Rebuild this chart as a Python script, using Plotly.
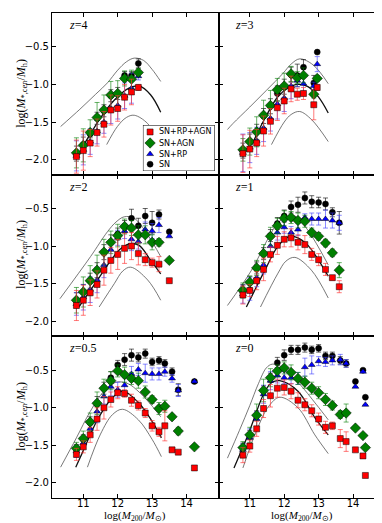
import plotly.graph_objs as go
from plotly.subplots import make_subplots


# ---- z = 4 ----
x_z4 = [10.8, 11.0, 11.2, 11.4, 11.6, 11.8, 12.0, 12.2, 12.4, 12.6]
red_z4 = [-1.96, -1.88, -1.78, -1.64, -1.53, -1.34, -1.32, -1.17, -1.10, -1.04]
green_z4 = [-1.91, -1.81, -1.64, -1.44, -1.34, -1.14, -1.12, -0.92, -0.93, -0.84]
blue_z4 = [-1.95, -1.87, -1.76, -1.62, -1.50, -1.32, -1.28, -1.15, -1.05, -0.89]
black_z4 = [-1.92, -1.80, -1.66, -1.45, -1.35, -1.15, -1.12, -0.88, -0.88, -0.72]
ered_z4 = [0.22, 0.26, 0.18, 0.18, 0.17, 0.2, 0.17, 0.17, 0.17, 0.04]
egreen_z4 = [0.2, 0.22, 0.17, 0.2, 0.2, 0.18, 0.17, 0.1, 0.12, 0.05]
eblue_z4 = [0.2, 0.2, 0.17, 0.17, 0.15, 0.2, 0.18, 0.17, 0.2, 0.05]
eblack_z4 = [0.1, 0.1, 0.05, 0.08, 0.08, 0.08, 0.08, 0.05, 0.05, 0.06]
up_z4 = [(10.34, -1.56), (10.9, -1.33), (11.36, -1.13), (11.7, -0.98), (12.0, -0.81),
         (12.25, -0.70), (12.48, -0.65), (12.75, -0.68), (13.0, -0.80), (13.25, -0.96)]
mid_z4 = [(10.95, -1.85), (11.07, -1.76), (11.55, -1.41), (11.94, -1.19), (12.33, -1.05),
          (12.62, -1.02), (12.96, -1.14), (13.25, -1.37)]
low_z4 = [(11.68, -1.80), (11.99, -1.56), (12.25, -1.44), (12.48, -1.41), (12.87, -1.52), (13.25, -1.81)]

# ---- z = 3 ----
x_z3 = [10.8, 11.0, 11.2, 11.4, 11.6, 11.8, 12.0, 12.2, 12.38, 12.56, 12.86, 12.96]
red_z3 = [-1.92, -1.86, -1.78, -1.62, -1.49, -1.31, -1.22, -1.06, -1.13, -1.12, -1.27, -1.04]
green_z3 = [-1.87, -1.76, -1.63, -1.41, -1.28, -1.07, -1.02, -0.86, -0.91, -0.88, -1.13, -0.92]
blue_z3 = [-1.91, -1.84, -1.75, -1.58, -1.45, -1.26, -1.18, -1.02, -0.95, -0.99, -1.02, -0.73]
black_z3 = [-1.88, -1.76, -1.63, -1.42, -1.29, -1.12, -1.03, -0.87, -0.88, -0.77, -0.98, -0.57]
ered_z3 = [0.25, 0.25, 0.18, 0.2, 0.17, 0.17, 0.17, 0.17, 0.08, 0.08, 0.2, 0.04]
egreen_z3 = [0.15, 0.18, 0.2, 0.2, 0.2, 0.15, 0.17, 0.1, 0.08, 0.1, 0.05, 0.04]
eblue_z3 = [0.25, 0.2, 0.18, 0.18, 0.17, 0.2, 0.18, 0.17, 0.08, 0.1, 0.05, 0.1]
eblack_z3 = [0.1, 0.1, 0.1, 0.1, 0.1, 0.1, 0.1, 0.1, 0.15, 0.1, 0.1, 0.0]
up_z3 = [(10.35, -1.60), (10.51, -1.52), (11.0, -1.30), (11.48, -1.08), (11.97, -0.85),
         (12.2, -0.73), (12.45, -0.66), (12.84, -0.74), (13.28, -0.99)]
mid_z3 = [(11.05, -1.81), (11.44, -1.45), (11.82, -1.16), (12.1, -1.05), (12.40, -1.0),
          (12.69, -1.03), (13.0, -1.17), (13.28, -1.38)]
low_z3 = [(11.63, -1.80), (12.0, -1.50), (12.2, -1.40), (12.45, -1.36), (12.8, -1.47), (13.28, -1.76)]

# ---- z = 2 ----
x_z2 = [10.8, 11.0, 11.2, 11.4, 11.6, 11.8, 12.0, 12.2, 12.4, 12.6, 12.8, 13.0, 13.2, 13.5]
red_z2 = [-1.79, -1.72, -1.62, -1.51, -1.32, -1.19, -1.11, -1.03, -1.0, -1.10, -1.18, -1.22, -1.24, -1.46]
green_z2 = [-1.72, -1.61, -1.46, -1.32, -1.08, -0.95, -0.86, -0.74, -0.76, -0.85, -0.85, -0.95, -0.95, -1.19]
blue_z2 = [-1.77, -1.68, -1.58, -1.45, -1.25, -1.05, -0.89, -0.80, -0.91, -0.94, -0.78, -0.80, -0.72, -0.87]
black_z2 = [-1.72, -1.61, -1.46, -1.32, -1.08, -0.95, -0.84, -0.74, -0.63, -0.73, -0.60, -0.69, -0.58, -0.81]
ered_z2 = [0.2, 0.2, 0.17, 0.18, 0.2, 0.17, 0.2, 0.2, 0.18, 0.15, 0.08, 0.06, 0.1, 0.0]
egreen_z2 = [0.17, 0.2, 0.2, 0.2, 0.17, 0.15, 0.15, 0.1, 0.1, 0.12, 0.12, 0.1, 0.05, 0.0]
eblue_z2 = [0.15, 0.17, 0.17, 0.17, 0.17, 0.12, 0.1, 0.1, 0.15, 0.1, 0.1, 0.1, 0.1, 0.0]
eblack_z2 = [0.1, 0.1, 0.1, 0.1, 0.1, 0.1, 0.08, 0.08, 0.12, 0.1, 0.1, 0.15, 0.06, 0.0]
up_z2 = [(10.32, -1.70), (11.21, -1.14), (11.70, -0.81), (11.95, -0.68), (12.19, -0.61),
         (12.48, -0.63), (12.87, -0.85), (13.25, -1.14)]
mid_z2 = [(10.87, -1.81), (11.31, -1.52), (11.80, -1.19), (12.05, -1.05), (12.33, -0.97),
          (12.62, -0.99), (12.96, -1.19), (13.25, -1.37)]
low_z2 = [(11.46, -1.81), (11.90, -1.50), (12.15, -1.33), (12.38, -1.28), (12.87, -1.45), (13.25, -1.72)]

# ---- z = 1 ----
x_z1 = [10.8, 11.0, 11.2, 11.4, 11.6, 11.8, 12.0, 12.2, 12.4, 12.6, 12.8, 13.0, 13.2, 13.4, 13.6]
red_z1 = [-1.65, -1.59, -1.46, -1.31, -1.11, -0.99, -0.91, -0.89, -0.95, -0.98, -1.11, -1.18, -1.31, -1.42, -1.54]
green_z1 = [-1.59, -1.48, -1.29, -1.10, -0.87, -0.73, -0.63, -0.62, -0.66, -0.67, -0.82, -0.87, -0.96, -1.09, -1.32]
blue_z1 = [-1.64, -1.57, -1.42, -1.25, -1.0, -0.82, -0.75, -0.82, -0.78, -0.62, -0.64, -0.64, -0.64, -0.66, -0.69]
black_z1 = [-1.59, -1.48, -1.29, -1.10, -0.86, -0.70, -0.60, -0.48, -0.45, -0.36, -0.41, -0.42, -0.44, -0.55, -0.69]
ered_z1 = [0.12, 0.08, 0.12, 0.15, 0.1, 0.12, 0.1, 0.12, 0.1, 0.12, 0.08, 0.08, 0.08, 0.03, 0.08]
egreen_z1 = [0.1, 0.08, 0.1, 0.12, 0.12, 0.1, 0.1, 0.08, 0.1, 0.08, 0.06, 0.05, 0.05, 0.05, 0.1]
eblue_z1 = [0.12, 0.15, 0.12, 0.12, 0.1, 0.1, 0.08, 0.08, 0.08, 0.05, 0.08, 0.08, 0.12, 0.1, 0.1]
eblack_z1 = [0.08, 0.08, 0.08, 0.08, 0.08, 0.08, 0.08, 0.08, 0.1, 0.08, 0.08, 0.07, 0.08, 0.06, 0.15]
up_z1 = [(10.35, -1.79), (11.05, -1.32), (11.53, -0.90), (11.8, -0.70), (12.02, -0.62),
         (12.31, -0.60), (12.69, -0.79), (13.28, -1.25)]
mid_z1 = [(10.90, -1.81), (11.44, -1.32), (11.82, -1.0), (12.16, -0.87), (12.4, -0.89),
          (12.69, -0.99), (13.28, -1.40)]
low_z1 = [(11.31, -1.81), (11.82, -1.36), (12.05, -1.20), (12.31, -1.15), (12.79, -1.32), (13.28, -1.69)]

# ---- z = 0.5 ----
x_z05 = [10.8, 11.0, 11.2, 11.4, 11.6, 11.8, 12.0, 12.2, 12.4, 12.6, 12.8, 13.0, 13.2, 13.37, 13.58, 13.76, 14.23]
red_z05 = [-1.62, -1.52, -1.36, -1.15, -1.0, -0.89, -0.80, -0.81, -0.90, -0.97, -1.07, -1.24, -1.32, -1.24, -1.56, -1.59, -1.80]
green_z05 = [-1.54, -1.41, -1.19, -0.94, -0.74, -0.64, -0.51, -0.56, -0.61, -0.64, -0.79, -0.89, -1.01, -0.98, -1.12, -1.31, -1.52]
blue_z05 = [-1.58, -1.47, -1.28, -1.05, -0.85, -0.72, -0.76, -0.70, -0.55, -0.49, -0.54, -0.55, -0.55, -0.52, -0.61, -0.77, -0.65]
black_z05 = [-1.55, -1.42, -1.20, -0.95, -0.74, -0.60, -0.43, -0.36, -0.30, -0.33, -0.28, -0.39, -0.37, -0.41, -0.52, -0.76, -0.65]
ered_z05 = [0.08, 0.08, 0.1, 0.15, 0.15, 0.1, 0.08, 0.05, 0.08, 0.06, 0.06, 0.07, 0.06, 0.2, 0.03, 0.0, 0.0]
egreen_z05 = [0.08, 0.1, 0.12, 0.15, 0.12, 0.12, 0.08, 0.1, 0.08, 0.1, 0.08, 0.05, 0.08, 0.08, 0.03, 0.05, 0.0]
eblue_z05 = [0.08, 0.08, 0.1, 0.15, 0.1, 0.12, 0.1, 0.1, 0.1, 0.08, 0.12, 0.08, 0.08, 0.06, 0.05, 0.08, 0.0]
eblack_z05 = [0.06, 0.06, 0.08, 0.1, 0.08, 0.08, 0.06, 0.08, 0.08, 0.06, 0.06, 0.05, 0.05, 0.05, 0.05, 0.08, 0.0]
up_z05 = [(10.34, -1.79), (10.8, -1.40), (11.2, -1.05), (11.6, -0.78), (11.95, -0.66),
          (12.3, -0.68), (12.62, -0.79), (12.95, -0.95), (13.25, -1.12)]
mid_z05 = [(10.78, -1.79), (11.0, -1.57), (11.4, -1.17), (11.8, -0.89), (12.14, -0.78),
           (12.6, -0.93), (13.0, -1.18), (13.27, -1.40)]
low_z05 = [(11.12, -1.79), (11.5, -1.35), (11.85, -1.09), (12.14, -1.02), (12.6, -1.16),
           (13.0, -1.42), (13.27, -1.65)]

# ---- z = 0 ----
x_z0 = [10.8, 11.0, 11.2, 11.4, 11.6, 11.8, 12.0, 12.2, 12.4, 12.6, 12.8, 13.0, 13.2, 13.4, 13.63, 13.8, 14.07, 14.29, 14.36]
red_z0 = [-1.63, -1.51, -1.28, -1.01, -0.84, -0.74, -0.73, -0.78, -0.90, -0.96, -1.04, -1.15, -1.26, -1.24, -1.41, -1.45, -1.56, -1.64, -1.90]
green_z0 = [-1.53, -1.36, -1.10, -0.77, -0.60, -0.51, -0.47, -0.53, -0.61, -0.66, -0.74, -0.80, -0.89, -0.97, -1.09, -1.07, -1.27, -1.37, -1.53]
blue_z0 = [-1.56, -1.40, -1.15, -0.82, -0.64, -0.57, -0.60, -0.60, -0.61, -0.46, -0.43, -0.38, -0.39, -0.37, -0.36, -0.41, -0.72, -0.52, -0.96]
black_z0 = [-1.53, -1.36, -1.10, -0.77, -0.60, -0.40, -0.30, -0.23, -0.23, -0.20, -0.23, -0.21, -0.31, -0.31, -0.37, -0.41, -0.65, -0.50, -0.86]
ered_z0 = [0.1, 0.08, 0.1, 0.12, 0.15, 0.12, 0.1, 0.1, 0.1, 0.08, 0.08, 0.08, 0.08, 0.05, 0.12, 0.13, 0.0, 0.0, 0.0]
egreen_z0 = [0.08, 0.1, 0.15, 0.15, 0.12, 0.08, 0.08, 0.1, 0.08, 0.08, 0.08, 0.08, 0.08, 0.06, 0.05, 0.12, 0.0, 0.0, 0.0]
eblue_z0 = [0.08, 0.12, 0.1, 0.12, 0.12, 0.1, 0.08, 0.08, 0.08, 0.12, 0.12, 0.06, 0.06, 0.06, 0.07, 0.05, 0.0, 0.0, 0.0]
eblack_z0 = [0.06, 0.06, 0.06, 0.06, 0.06, 0.07, 0.07, 0.06, 0.06, 0.06, 0.05, 0.05, 0.05, 0.05, 0.05, 0.05, 0.0, 0.0, 0.0]
up_z0 = [(10.35, -1.67), (10.7, -1.30), (11.0, -0.97), (11.25, -0.68), (11.48, -0.47),
         (11.65, -0.42), (11.9, -0.45), (12.4, -0.66), (12.94, -0.96), (13.28, -1.16)]
mid_z0 = [(10.54, -1.80), (10.95, -1.36), (11.44, -0.78), (11.65, -0.66), (11.87, -0.64),
          (12.4, -0.78), (12.89, -1.13), (13.28, -1.36)]
low_z0 = [(10.8, -1.80), (11.19, -1.31), (11.55, -0.98), (11.87, -0.86), (12.4, -1.0),
          (12.89, -1.36), (13.28, -1.61)]

series_names = ['SN+RP+AGN', 'SN+AGN', 'SN+RP', 'SN']
y_ticks = [-2.0, -1.5, -1.0, -0.5]
x_ticks = [11, 12, 13, 14]

panels = [
    ('4', 1, 1, x_z4, [red_z4, green_z4, blue_z4, black_z4],
     [ered_z4, egreen_z4, eblue_z4, eblack_z4], [up_z4, mid_z4, low_z4]),
    ('3', 1, 2, x_z3, [red_z3, green_z3, blue_z3, black_z3],
     [ered_z3, egreen_z3, eblue_z3, eblack_z3], [up_z3, mid_z3, low_z3]),
    ('2', 2, 1, x_z2, [red_z2, green_z2, blue_z2, black_z2],
     [ered_z2, egreen_z2, eblue_z2, eblack_z2], [up_z2, mid_z2, low_z2]),
    ('1', 2, 2, x_z1, [red_z1, green_z1, blue_z1, black_z1],
     [ered_z1, egreen_z1, eblue_z1, eblack_z1], [up_z1, mid_z1, low_z1]),
    ('0.5', 3, 1, x_z05, [red_z05, green_z05, blue_z05, black_z05],
     [ered_z05, egreen_z05, eblue_z05, eblack_z05], [up_z05, mid_z05, low_z05]),
    ('0', 3, 2, x_z0, [red_z0, green_z0, blue_z0, black_z0],
     [ered_z0, egreen_z0, eblue_z0, eblack_z0], [up_z0, mid_z0, low_z0]),
]

styles = [
    dict(symbol='square', size=6, color='#ff0000', ecolor='rgba(255,50,50,0.65)'),
    dict(symbol='diamond', size=8, color='#007f00', ecolor='rgba(0,127,0,0.6)'),
    dict(symbol='triangle-up', size=6, color='#0000ff', ecolor='rgba(60,60,255,0.6)'),
    dict(symbol='circle', size=6, color='#000000', ecolor='rgba(0,0,0,0.6)'),
]
curve_styles = [dict(color='#555555', width=0.8), dict(color='#111111', width=1.3),
                dict(color='#555555', width=0.8)]

fig = make_subplots(rows=3, cols=2, horizontal_spacing=0, vertical_spacing=0)

annotations = []
for i, (z, row, col, x, ys, errs, curves) in enumerate(panels):
    for curve, cs in zip(curves, curve_styles):
        fig.add_trace(go.Scatter(
            x=[p[0] for p in curve], y=[p[1] for p in curve],
            mode='lines', line=dict(color=cs['color'], width=cs['width'], shape='spline'),
            showlegend=False, hoverinfo='skip'), row=row, col=col)
    # SN drawn first, SN+RP+AGN on top
    for k in [3, 2, 1, 0]:
        st = styles[k]
        fig.add_trace(go.Scatter(
            x=x, y=ys[k], mode='markers', name=series_names[k], showlegend=False,
            error_y=dict(type='data', array=errs[k], color=st['ecolor'], thickness=1, width=2.5),
            marker=dict(symbol=st['symbol'], size=st['size'], color=st['color'],
                        line=dict(color='black', width=0.5))
        ), row=row, col=col)
    ax = '' if i == 0 else str(i + 1)
    annotations.append(dict(
        text='<i>z</i>=' + z, xref='x%s domain' % ax, yref='y%s domain' % ax,
        x=0.09, y=0.925, xanchor='left', yanchor='middle', showarrow=False,
        font=dict(family='Liberation Serif', size=12, color='black')))

ylab = 'log(<i>M</i><sub>*,cen</sub>/<i>M</i><sub>h</sub>)'
for yc in [0.834, 0.502, 0.168]:
    annotations.append(dict(text=ylab, xref='paper', yref='paper', x=-0.092, y=yc,
                            textangle=-90, showarrow=False, xanchor='center', yanchor='middle',
                            font=dict(family='Liberation Serif', size=12, color='black')))
xlab = 'log(<i>M</i><sub>200</sub>/<i>M</i><sub>⊙</sub>)'
for xc in [0.25, 0.75]:
    annotations.append(dict(text=xlab, xref='paper', yref='paper', x=xc, y=-0.038,
                            showarrow=False, xanchor='center', yanchor='middle',
                            font=dict(family='Liberation Serif', size=11, color='black')))

fig.update_xaxes(range=[10.09, 14.93], tickvals=x_ticks, ticks='inside', ticklen=4,
                 tickcolor='black', mirror='allticks', showline=True, linecolor='black',
                 linewidth=1, showgrid=False, zeroline=False, ticklabelstandoff=-4,
                 tickfont=dict(family='DejaVu Sans', size=10, color='black'))
fig.update_yaxes(range=[-2.2, -0.05], tickvals=y_ticks,
                 ticktext=['\u22122.0', '\u22121.5', '\u22121.0', '\u22120.5'],
                 ticks='inside', ticklen=4, tickcolor='black', mirror='allticks', showline=True,
                 linecolor='black', linewidth=1, showgrid=False, zeroline=False,
                 tickfont=dict(family='DejaVu Sans', size=10, color='black'))
for row in [1, 2]:
    fig.update_xaxes(showticklabels=False, row=row)
fig.update_yaxes(showticklabels=False, col=2)

# compact legend box drawn on its own hidden axes
leg_rows = [0.85, 0.61, 0.37, 0.15]
fig.add_trace(go.Scatter(x=[0, 1, 1, 0, 0], y=[0, 0, 1, 1, 0], mode='lines', fill='toself',
                         fillcolor='white', line=dict(color='black', width=1),
                         xaxis='x7', yaxis='y7', showlegend=False, hoverinfo='skip'))
for k, st in enumerate(styles):
    fig.add_trace(go.Scatter(x=[0.1], y=[leg_rows[k]], mode='markers', xaxis='x7', yaxis='y7',
                             marker=dict(symbol=st['symbol'], size=st['size'], color=st['color'],
                                         line=dict(color='black', width=0.5)),
                             showlegend=False, hoverinfo='skip'))
    annotations.append(dict(text=series_names[k], xref='x7', yref='y7', x=0.2, y=leg_rows[k],
                            xanchor='left', yanchor='middle', showarrow=False,
                            font=dict(family='DejaVu Sans', size=8, color='black')))

fig.update_layout(
    width=382, height=523,
    margin=dict(l=44, r=5, t=5, b=33),
    plot_bgcolor='white', paper_bgcolor='white',
    annotations=annotations,
    showlegend=False,
    xaxis7=dict(domain=[0.273, 0.489], range=[0, 1], visible=False, anchor='y7', fixedrange=True),
    yaxis7=dict(domain=[0.674, 0.769], range=[0, 1], visible=False, anchor='x7', fixedrange=True),
)

fig.write_html("out.html")
